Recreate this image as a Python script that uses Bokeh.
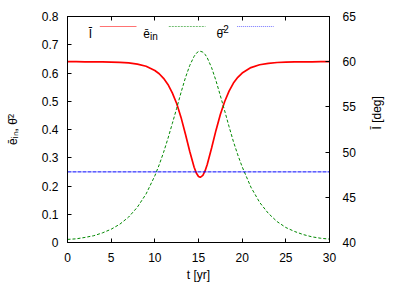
import math
from bokeh.plotting import figure
from bokeh.models import (Range1d, LinearAxis, FixedTicker, Label, Arrow,
                          PrintfTickFormatter, ColumnDataSource,
                          CustomLabelingPolicy)
from bokeh.embed import file_html
from bokeh.resources import INLINE

# ---- data ----
t_yr = [0, 1, 2, 3, 4, 5, 6, 7, 8, 9, 10, 10.5, 11, 11.5, 12, 12.5, 13, 13.5,
        14, 14.5, 14.75, 15, 15.2, 15.5, 15.75, 16, 16.5, 17, 17.5, 18, 18.5,
        19, 19.5, 20, 21, 22, 23, 24, 25, 26, 27, 28, 29, 30]
e_in = [0.011, 0.013, 0.018, 0.024, 0.034, 0.047, 0.065, 0.090, 0.125, 0.172,
        0.236, 0.275, 0.319, 0.368, 0.421, 0.475, 0.531, 0.583, 0.627, 0.659,
        0.670, 0.676, 0.677, 0.674, 0.666, 0.654, 0.619, 0.573, 0.520, 0.466,
        0.410, 0.357, 0.310, 0.268, 0.196, 0.142, 0.103, 0.074, 0.053, 0.039,
        0.028, 0.020, 0.015, 0.012]
incl_deg = [60.00, 60.00, 59.99, 59.98, 59.98, 59.96, 59.93, 59.87, 59.74,
            59.50, 59.03, 58.67, 58.16, 57.48, 56.55, 55.38, 53.84, 52.01,
            50.07, 48.33, 47.68, 47.31, 47.21, 47.42, 47.91, 48.63, 50.46,
            52.40, 54.17, 55.60, 56.75, 57.64, 58.27, 58.74, 59.35, 59.66,
            59.82, 59.91, 59.95, 59.98, 59.99, 59.99, 60.00, 60.00]
theta2_t = [0, 30]
theta2 = [0.25, 0.25]

x_ticks = [0, 5, 10, 15, 20, 25, 30]
y_ticks = [0, 0.1, 0.2, 0.3, 0.4, 0.5, 0.6, 0.7, 0.8]
y2_ticks = [40, 45, 50, 55, 60, 65]

FONT = "Liberation Sans"
RED = "#ff0000"
GREEN = "#008800"
BLUE = "#0000ff"

p = figure(width=409, height=286, output_backend="svg", toolbar_location=None,
           x_range=Range1d(0, 30), y_range=Range1d(0, 0.8),
           min_border_left=67, min_border_right=80, min_border_top=16,
           min_border_bottom=44,
           background_fill_color="white", border_fill_color="white")
p.extra_y_ranges = {"y2": Range1d(40, 65)}
p.grid.visible = False
p.outline_line_color = "black"
p.outline_line_width = 1
p.outline_line_alpha = 1

xa = p.below[0]
ya = p.left[0]
right = LinearAxis(y_range_name="y2")
p.add_layout(right, "right")
top = LinearAxis()
p.add_layout(top, "above")


def style(ax, ticks):
    ax.ticker = FixedTicker(ticks=ticks, minor_ticks=[])
    ax.axis_line_color = "black"
    ax.axis_line_width = 1
    ax.major_tick_in = 4
    ax.major_tick_out = 0
    ax.minor_tick_in = 0
    ax.minor_tick_out = 0
    ax.major_tick_line_color = "black"
    ax.major_label_text_font = FONT
    ax.major_label_text_font_size = "12px"
    ax.major_label_text_color = "black"
    ax.axis_label_text_font = FONT
    ax.axis_label_text_font_size = "12px"
    ax.axis_label_text_font_style = "normal"
    ax.axis_label_text_color = "black"


style(xa, x_ticks)
style(ya, y_ticks)
style(right, y2_ticks)
style(top, x_ticks)

ya.formatter = PrintfTickFormatter(format="%g")
xa.major_label_standoff = 10
xa.axis_label = "t [yr]"
xa.axis_label_standoff = 3
ya.major_label_standoff = 9
ya.axis_label = "ēᵢₙ, θ̄²"
ya.axis_label_standoff = 19
right.major_label_standoff = 13
right.axis_label = "Ī [deg]"
right.axis_label_standoff = 18
right.axis_label_orientation = math.pi / 2
# mirror ticks on top: ticks only, no labels
top.major_label_standoff = 0
top.major_label_policy = CustomLabelingPolicy(
    code="for (const i of indices) { indices.unset(i) }\nreturn indices")

# ---- curves ----
p.line(t_yr, incl_deg, color=RED, line_width=1.7, y_range_name="y2")
p.line(t_yr, e_in, color=GREEN, line_width=1, line_dash="3 2")
p.line(theta2_t, theta2, color=BLUE, line_width=1, line_dash="4 1")


# ---- key (gnuplot style: text then sample), screen units relative to frame ----
def lab(x, y, text, size="12px", align="left"):
    p.add_layout(Label(x=x, y=y, x_units="screen", y_units="screen", text=text,
                       text_font=FONT, text_font_size=size, text_color="black",
                       text_align=align, text_baseline="alphabetic"))


def sample(x0, x1, y, color, dash):
    src = ColumnDataSource(dict(x0=[x0], x1=[x1], y=[y]))
    p.add_layout(Arrow(end=None, source=src, x_start="x0", y_start="y",
                       x_end="x1", y_end="y",
                       start_units="screen", end_units="screen",
                       line_color=color, line_width=1, line_dash=dash,
                       line_alpha=0.55))


lab(24.5, 209, "Ī", align="right")
sample(32.3, 69, 216, RED, "solid")
lab(75.8, 209, "ē")
lab(82.5, 206, "in", size="10px")
sample(101.3, 138, 216, GREEN, "2 1")
lab(149, 209, "θ̄")
lab(155.7, 214, "2", size="10px")
sample(169.7, 206.3, 216, BLUE, "1 1")

open("out.html", "w").write(file_html(p, INLINE))
